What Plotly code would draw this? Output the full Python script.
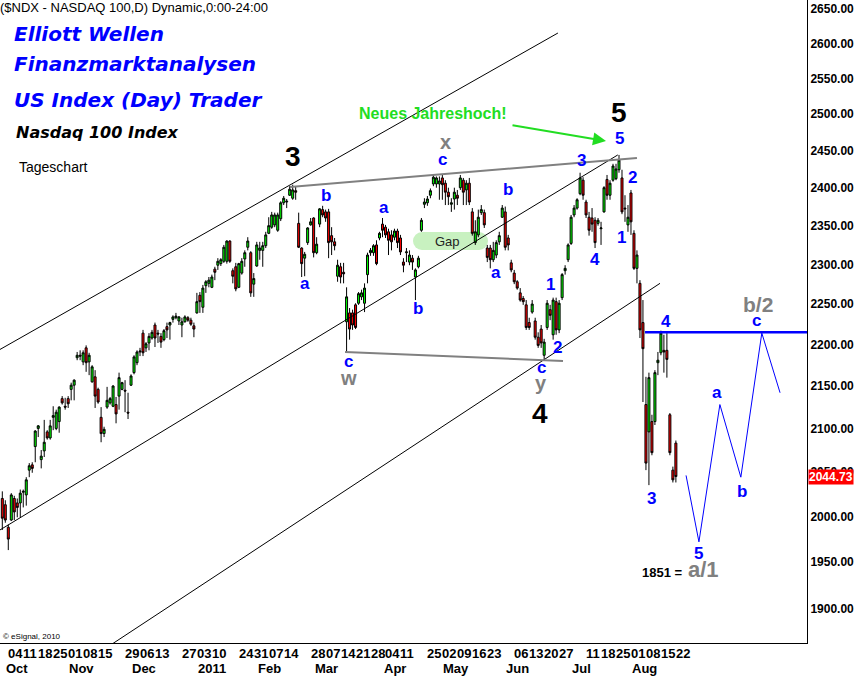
import numpy as np
import pandas as pd
import plotly.graph_objects as go

# ---------------------------------------------------------------------------
# trading days, Sep 30 2010 .. Aug 22 2011
# ---------------------------------------------------------------------------
holidays = ["2010-11-25", "2010-12-24", "2011-01-17", "2011-02-21",
            "2011-04-22", "2011-05-30", "2011-07-04"]
dates = [d.strftime("%Y-%m-%d") for d in pd.bdate_range("2010-09-30", "2011-08-22")
         if d.strftime("%Y-%m-%d") not in holidays]
pos = {d: i for i, d in enumerate(dates)}
idx = list(range(len(dates)))

opens = [
    2020, 2013, 1988, 1996, 2020, 2015, 2015, 2027, 2024, 2052,
    2058, 2079, 2100, 2064, 2074, 2096, 2089, 2113, 2100, 2108,
    2135, 2126, 2135, 2146, 2151, 2184, 2187, 2179, 2196, 2179,
    2155, 2161, 2146, 2113, 2094, 2125, 2130, 2126, 2128, 2138,
    2146, 2145, 2119, 2151, 2166, 2178, 2191, 2214, 2196, 2202,
    2208, 2224, 2214, 2210, 2206, 2222, 2224, 2231, 2233, 2229,
    2224, 2228, 2233, 2230, 2223, 2239, 2261, 2246, 2273, 2276,
    2271, 2294, 2299, 2301, 2304, 2304, 2330, 2292, 2297, 2271,
    2289, 2307, 2322, 2315, 2275, 2298, 2318, 2318, 2324, 2340,
    2348, 2351, 2344, 2359, 2380, 2381, 2390, 2386, 2396, 2353,
    2321, 2308, 2328, 2351, 2360, 2315, 2352, 2371, 2368, 2368,
    2337, 2329, 2285, 2297, 2290, 2228, 2239, 2239, 2249, 2251,
    2259, 2251, 2287, 2315, 2315, 2325, 2334, 2352, 2348, 2342,
    2338, 2335, 2343, 2334, 2303, 2315, 2303, 2308, 2284, 2297,
    2344, 2378, 2380, 2390, 2405, 2405, 2405, 2413, 2406, 2394,
    2378, 2385, 2390, 2400, 2410, 2397, 2406, 2368, 2328, 2338,
    2367, 2367, 2321, 2321, 2306, 2312, 2329, 2361, 2368, 2334,
    2302, 2289, 2278, 2264, 2257, 2249, 2227, 2240, 2229, 2209,
    2219, 2187, 2221, 2243, 2212, 2253, 2218, 2258, 2292, 2306,
    2327, 2364, 2373, 2392, 2410, 2381, 2361, 2360, 2357, 2353,
    2346, 2368, 2411, 2390, 2410, 2412, 2424, 2413, 2373, 2351,
    2393, 2340, 2295, 2276, 2227, 2128, 2096, 2108, 2108, 2178,
    2190, 2193, 2193, 2116, 2052, 2083,
]
highs = [
    2028, 2018, 1991, 2026, 2023, 2020, 2030, 2030, 2044, 2060,
    2061, 2098, 2104, 2075, 2110, 2098, 2110, 2126, 2122, 2126,
    2138, 2136, 2138, 2154, 2158, 2191, 2193, 2193, 2199, 2190,
    2175, 2169, 2148, 2125, 2102, 2149, 2137, 2151, 2137, 2166,
    2155, 2157, 2142, 2164, 2187, 2193, 2196, 2218, 2203, 2214,
    2218, 2227, 2218, 2214, 2219, 2227, 2228, 2236, 2239, 2235,
    2233, 2236, 2235, 2233, 2227, 2264, 2265, 2274, 2280, 2284,
    2287, 2297, 2308, 2308, 2325, 2331, 2331, 2295, 2302, 2302,
    2308, 2318, 2335, 2317, 2289, 2329, 2329, 2329, 2342, 2361,
    2368, 2367, 2367, 2382, 2389, 2385, 2402, 2404, 2401, 2367,
    2322, 2316, 2348, 2360, 2361, 2335, 2373, 2376, 2371, 2372,
    2348, 2334, 2306, 2302, 2302, 2271, 2245, 2243, 2251, 2265,
    2268, 2276, 2315, 2321, 2326, 2331, 2342, 2360, 2351, 2346,
    2344, 2346, 2346, 2338, 2308, 2321, 2318, 2312, 2295, 2311,
    2360, 2386, 2389, 2399, 2418, 2415, 2415, 2417, 2410, 2400,
    2386, 2400, 2397, 2417, 2413, 2410, 2413, 2373, 2357, 2371,
    2377, 2371, 2325, 2325, 2329, 2331, 2342, 2377, 2375, 2338,
    2306, 2293, 2280, 2270, 2260, 2255, 2233, 2255, 2233, 2215,
    2224, 2207, 2255, 2249, 2258, 2258, 2255, 2289, 2299, 2327,
    2364, 2377, 2386, 2420, 2414, 2384, 2368, 2373, 2361, 2360,
    2355, 2402, 2417, 2410, 2432, 2432, 2444, 2424, 2390, 2377,
    2397, 2344, 2318, 2280, 2255, 2161, 2166, 2116, 2169, 2191,
    2217, 2212, 2214, 2118, 2056, 2086,
]
lows = [
    1985, 1993, 1963, 1995, 1996, 1999, 1999, 2010, 2012, 2044,
    2049, 2061, 2090, 2054, 2067, 2087, 2087, 2098, 2098, 2095,
    2128, 2122, 2124, 2133, 2133, 2181, 2181, 2175, 2167, 2163,
    2154, 2124, 2129, 2084, 2090, 2123, 2128, 2125, 2106, 2122,
    2145, 2119, 2111, 2150, 2164, 2175, 2186, 2186, 2191, 2193,
    2206, 2197, 2202, 2196, 2204, 2208, 2206, 2227, 2231, 2224,
    2209, 2227, 2228, 2223, 2209, 2238, 2239, 2239, 2264, 2271,
    2270, 2280, 2293, 2298, 2302, 2301, 2302, 2276, 2266, 2270,
    2287, 2297, 2318, 2259, 2259, 2297, 2306, 2297, 2321, 2339,
    2346, 2348, 2342, 2356, 2377, 2373, 2389, 2384, 2384, 2321,
    2284, 2285, 2325, 2350, 2309, 2313, 2348, 2361, 2355, 2308,
    2312, 2318, 2278, 2276, 2276, 2190, 2206, 2218, 2219, 2249,
    2255, 2240, 2276, 2311, 2311, 2299, 2331, 2335, 2334, 2312,
    2318, 2331, 2321, 2312, 2290, 2303, 2299, 2293, 2255, 2295,
    2342, 2373, 2376, 2386, 2402, 2400, 2384, 2384, 2377, 2377,
    2368, 2371, 2377, 2397, 2377, 2377, 2377, 2337, 2325, 2335,
    2364, 2347, 2303, 2295, 2303, 2308, 2325, 2360, 2318, 2318,
    2290, 2275, 2268, 2253, 2249, 2218, 2218, 2238, 2206, 2196,
    2196, 2181, 2218, 2230, 2206, 2212, 2214, 2255, 2287, 2303,
    2325, 2361, 2371, 2390, 2384, 2360, 2337, 2342, 2321, 2350,
    2325, 2367, 2384, 2384, 2408, 2410, 2420, 2365, 2355, 2342,
    2338, 2293, 2276, 2208, 2131, 2052, 2035, 2069, 2104, 2163,
    2187, 2166, 2160, 2069, 2038, 2038,
]
closes = [
    1998, 1996, 1975, 2024, 2005, 2010, 2026, 2028, 2041, 2057,
    2054, 2097, 2103, 2068, 2084, 2089, 2103, 2115, 2119, 2125,
    2130, 2125, 2129, 2151, 2157, 2187, 2186, 2190, 2178, 2187,
    2173, 2138, 2131, 2094, 2099, 2133, 2135, 2150, 2117, 2160,
    2154, 2144, 2118, 2162, 2185, 2191, 2192, 2190, 2201, 2210,
    2215, 2208, 2213, 2203, 2217, 2218, 2227, 2234, 2235, 2234,
    2228, 2234, 2230, 2225, 2219, 2253, 2253, 2270, 2278, 2280,
    2284, 2290, 2304, 2306, 2322, 2330, 2304, 2285, 2269, 2301,
    2304, 2315, 2330, 2264, 2282, 2325, 2321, 2324, 2338, 2350,
    2364, 2364, 2364, 2380, 2386, 2382, 2398, 2397, 2394, 2322,
    2301, 2313, 2347, 2355, 2315, 2326, 2372, 2364, 2360, 2328,
    2329, 2324, 2299, 2284, 2288, 2259, 2219, 2224, 2221, 2263,
    2264, 2270, 2312, 2318, 2324, 2301, 2340, 2344, 2338, 2331,
    2329, 2343, 2328, 2316, 2299, 2316, 2312, 2303, 2293, 2308,
    2357, 2381, 2385, 2396, 2414, 2413, 2409, 2404, 2394, 2388,
    2380, 2394, 2386, 2413, 2394, 2406, 2381, 2340, 2342, 2361,
    2371, 2351, 2309, 2306, 2318, 2328, 2337, 2373, 2322, 2325,
    2293, 2278, 2270, 2255, 2253, 2221, 2221, 2250, 2209, 2199,
    2202, 2203, 2251, 2236, 2255, 2218, 2251, 2287, 2295, 2325,
    2361, 2373, 2384, 2413, 2390, 2364, 2344, 2352, 2328, 2357,
    2347, 2400, 2390, 2406, 2429, 2425, 2437, 2368, 2372, 2361,
    2355, 2295, 2312, 2218, 2195, 2060, 2160, 2072, 2166, 2181,
    2214, 2191, 2182, 2072, 2041, 2044.73,
]
last_price = 2044.73

# channel / pattern lines: (trading-day index, price)
chan_upper_x, chan_upper_y = [-0.8, 185.6], [2194, 2615]
chan_mid_x, chan_mid_y = [-0.8, 205.6], [1985, 2444]
chan_low_x, chan_low_y = [37.0, 219.7], [1864, 2276]
tri_top_x, tri_top_y = [96.1, 212.0], [2401, 2440]
tri_bot_x, tri_bot_y = [114.5, 187.3], [2191, 2180]
level_x, level_y = [214.7, 275], [2215, 2215]
proj_x = [228.4, 232.7, 239.7, 246.7, 253.7, 259.8]
proj_y = [2046, 1972, 2128, 2044, 2214, 2142]

# wave labels: (index, price, text)
blue_labels = [
    (108, 2390, "b"), (101, 2276, "a"), (127.5, 2374, "a"), (115.5, 2179, "c"),
    (139, 2245, "b"), (147, 2438, "c"), (169, 2397, "b"), (165, 2290, "a"),
    (183, 2274, "1"), (185.6, 2197, "2"), (180, 2172, "c"), (193.6, 2437, "3"),
    (198, 2306, "4"), (206, 2466, "5"), (210.6, 2414, "2"), (207, 2334, "1"),
    (221.7, 2228, "4"), (216.7, 2020, "3"), (232.7, 1959, "5"), (238.7, 2142, "a"),
    (247, 2028, "b"), (252, 2229, "c"),
]
grey_labels = [(147.9, 2462, "x", 20), (115.5, 2160, "w", 20), (179.9, 2154, "y", 20),
               (252.4, 2250, "b/2", 21), (234.3, 1942, "a/1", 22)]
black_labels = [(97.1, 2442, "3"), (206, 2502, "5"), (179.6, 2118, "4")]

price_ticks = list(range(1900, 2651, 50))
day_ticks = ["2010-10-04", "2010-10-11", "2010-10-18", "2010-10-25", "2010-11-01",
             "2010-11-08", "2010-11-15", "2010-11-29", "2010-12-06", "2010-12-13",
             "2010-12-27", "2011-01-03", "2011-01-10", "2011-01-24", "2011-01-31",
             "2011-02-07", "2011-02-14", "2011-02-28", "2011-03-07", "2011-03-14",
             "2011-03-21", "2011-03-28", "2011-04-04", "2011-04-11", "2011-04-25",
             "2011-05-02", "2011-05-09", "2011-05-16", "2011-05-23", "2011-06-06",
             "2011-06-13", "2011-06-20", "2011-06-27", "2011-07-11", "2011-07-18",
             "2011-07-25", "2011-08-01", "2011-08-08", "2011-08-15", "2011-08-22"]
month_ticks = [("2010-10-01", "Oct"), ("2010-11-01", "Nov"), ("2010-12-01", "Dec"),
               ("2011-01-03", "2011"), ("2011-02-01", "Feb"), ("2011-03-01", "Mar"),
               ("2011-04-01", "Apr"), ("2011-05-02", "May"), ("2011-06-01", "Jun"),
               ("2011-07-01", "Jul"), ("2011-08-01", "Aug")]

W, H = 855, 676
PW, PH = 807, 643
ARIAL = "Liberation Sans"
BLUE = "#0000ff"
GREY = "#808080"


def px(x):
    return x / PW


def py(y):
    return 1 - y / PH


fig = go.Figure()

fig.add_trace(go.Candlestick(
    x=idx, open=opens, high=highs, low=lows, close=closes,
    increasing=dict(fillcolor="#00ff00", line=dict(color="black", width=1)),
    decreasing=dict(fillcolor="#ff0000", line=dict(color="black", width=1)),
    whiskerwidth=0, hoverinfo="skip",
))


def line(xs, ys, color="black", width=1):
    fig.add_trace(go.Scatter(x=xs, y=ys, mode="lines", hoverinfo="skip",
                             line=dict(color=color, width=width)))


line(chan_upper_x, chan_upper_y)
line(chan_mid_x, chan_mid_y)
line(chan_low_x, chan_low_y)
line(tri_top_x, tri_top_y, GREY, 2)
line(tri_bot_x, tri_bot_y, GREY, 2)
line(level_x, level_y, BLUE, 2.5)
line(proj_x, proj_y, BLUE, 1)

ann = []


def text(x, y, s, size, color="black", family=ARIAL, weight="normal", style="normal",
         xref="paper", yref="paper", xanchor="center", yanchor="middle", **kw):
    ann.append(dict(x=x, y=y, xref=xref, yref=yref, text=s, showarrow=False,
                    xanchor=xanchor, yanchor=yanchor,
                    font=dict(family=family, size=size, color=color, weight=weight, style=style),
                    **kw))


# wave labels
for i, p, s in blue_labels:
    text(i, np.log10(p), s, 17, BLUE, weight="bold", xref="x", yref="y")
for i, p, s, sz in grey_labels:
    text(i, np.log10(p), s, sz, GREY, weight="bold", xref="x", yref="y")
for i, p, s in black_labels:
    text(i, np.log10(p), s, 28, "black", weight="bold", xref="x", yref="y")
text(220.6, np.log10(1939), "1851 =", 13, "black", weight="bold", xref="x", yref="y")

# header texts
text(px(0), py(8), "($NDX - NASDAQ 100,D) Dynamic,0:00-24:00", 13, xanchor="left", xshift=-2)
for s, yy in [("Elliott Wellen", 34), ("Finanzmarktanalysen", 64), ("US Index (Day) Trader", 100)]:
    text(px(12), py(yy), s, 20, BLUE, family="DejaVu Sans", weight="bold", style="italic",
         xanchor="left")
text(px(14), py(133), "Nasdaq 100 Index", 16, "black", family="DejaVu Sans", weight="bold",
     style="italic", xanchor="left")
text(px(17), py(167), "Tageschart", 14, xanchor="left")
text(px(1), py(636), "© eSignal, 2010", 8, xanchor="left")

# annotation with arrow
text(px(357), py(114), "Neues Jahreshoch!", 16, "#22dd22", weight="bold", xanchor="left")
ann.append(dict(x=px(606), y=py(141), xref="paper", yref="paper", ax=-95, ay=-16,
                showarrow=True, arrowcolor="#22dd22", arrowwidth=2, arrowhead=2,
                arrowsize=1.3, standoff=0, text=""))

# gap marker
shapes = [
    dict(type="rect", xref="paper", yref="paper", x0=px(422), x1=px(479), y0=py(250), y1=py(232),
         fillcolor="#c8f1c0", line=dict(width=0), layer="below"),
    dict(type="circle", xref="paper", yref="paper", x0=px(413), x1=px(431), y0=py(250), y1=py(232),
         fillcolor="#c8f1c0", line=dict(width=0), layer="below"),
    dict(type="circle", xref="paper", yref="paper", x0=px(470), x1=px(488), y0=py(250), y1=py(232),
         fillcolor="#c8f1c0", line=dict(width=0), layer="below"),
]
text(px(447), py(241), "Gap", 13, "#222222")

# last price box
ann.append(dict(x=1, y=np.log10(last_price), xref="paper", yref="y", text=f"{last_price:.2f}",
                showarrow=False, xanchor="left", yanchor="middle", xshift=1,
                bgcolor="#ff0000", borderpad=0,
                font=dict(family=ARIAL, size=12, color="white", weight="bold")))

# date axis labels
for d in day_ticks:
    text(pos[d], py(653), d[-2:], 13, weight="bold", xref="x", xanchor="left", xshift=-2)
for d, s in month_ticks:
    text(pos[d], py(668), s, 13, weight="bold", xref="x", xanchor="left", xshift=-1)

fig.update_layout(
    width=W, height=H,
    margin=dict(l=0, r=W - PW, t=0, b=H - PH, pad=0),
    paper_bgcolor="white", plot_bgcolor="white",
    showlegend=False, boxgap=0.05,
    annotations=ann, shapes=shapes,
    xaxis=dict(range=[-0.77, 268.8], showgrid=False, zeroline=False, showticklabels=False,
               ticks="", showline=True, linecolor="black", linewidth=1,
               rangeslider=dict(visible=False), fixedrange=True),
    yaxis=dict(type="log", range=[np.log10(1864.4), np.log10(2663.3)], side="right",
               tickvals=price_ticks, ticktext=[f"{v:.2f}" for v in price_ticks],
               tickfont=dict(family=ARIAL, size=12, color="black", weight="bold"),
               showgrid=False, zeroline=False, ticks="", showline=True,
               linecolor="black", linewidth=1, fixedrange=True),
)

fig.write_html("out.html", config={"displayModeBar": False},
               post_script="document.body.style.margin='0px';"
                           "document.body.style.overflow='hidden';")
